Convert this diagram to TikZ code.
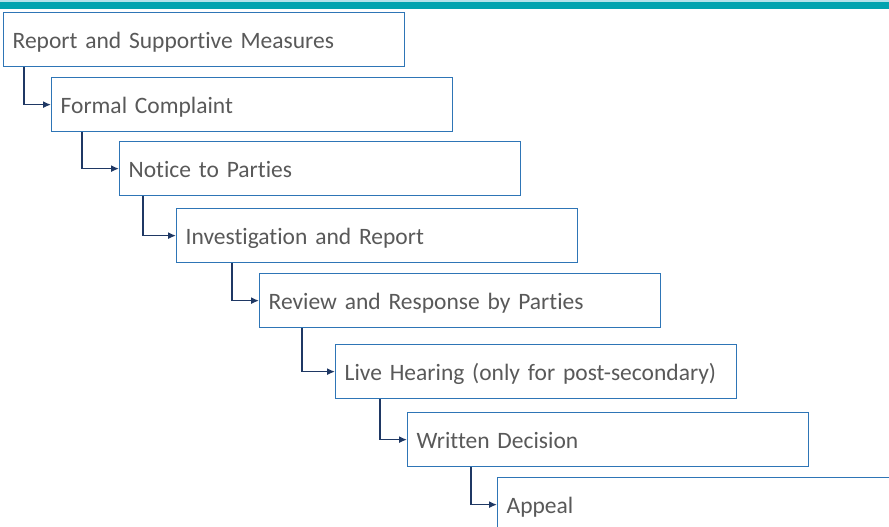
\documentclass[tikz,border=0pt]{standalone}
\usepackage{fontspec}
\setmainfont{Carlito}[Ligatures=NoCommon]
\usetikzlibrary{arrows.meta}

\definecolor{boxblue}{RGB}{46,117,182}
\definecolor{linknavy}{RGB}{31,56,100}
\definecolor{textgray}{RGB}{89,89,89}
\definecolor{barteal}{RGB}{0,163,175}
\definecolor{barlight}{RGB}{178,226,234}

\tikzset{
  stage/.style={draw=boxblue, line width=1.3pt, fill=white, anchor=north west,
    minimum width=401pt, minimum height=54pt, text width=383pt, inner xsep=9pt,
    text height=22pt, text depth=4pt,
    align=left, text=textgray, font=\fontsize{23.5}{26}\selectfont},
  link/.style={draw=linknavy, line width=1.4pt, -{Latex[length=8pt,width=7pt]}}
}

\begin{document}
\begin{tikzpicture}[x=1pt, y=1pt]
    \clip (0,0) rectangle (889,-527);
    \fill[white] (0,0) rectangle (889,-527);
    \fill[barlight] (0,0) rectangle (889,-2);
    \fill[barteal] (0,-2) rectangle (889,-9);

    \node[stage] (report) at (3,-12) {Report and Supportive Measures};
    \node[stage] (formal) at (51,-77) {Formal Complaint};
    \node[stage] (notice) at (119,-141) {Notice to Parties};
    \node[stage] (invest) at (176,-208) {Investigation and Report};
    \node[stage] (review) at (259,-273) {Review and Response by Parties};
    \node[stage] (hearing) at (335,-344) {Live Hearing (only for post-secondary)};
    \node[stage] (decision) at (407,-412) {Written Decision};
    \node[stage] (appeal) at (497,-477) {Appeal};

    \draw[link] ([xshift=21pt]report.south west) |- (formal.west);
    \draw[link] ([xshift=31pt]formal.south west) |- (notice.west);
    \draw[link] ([xshift=24pt]notice.south west) |- (invest.west);
    \draw[link] ([xshift=56pt]invest.south west) |- (review.west);
    \draw[link] ([xshift=43pt]review.south west) |- (hearing.west);
    \draw[link] ([xshift=45pt]hearing.south west) |- (decision.west);
    \draw[link] ([xshift=64pt]decision.south west) |- (appeal.west);
\end{tikzpicture}
\end{document}
